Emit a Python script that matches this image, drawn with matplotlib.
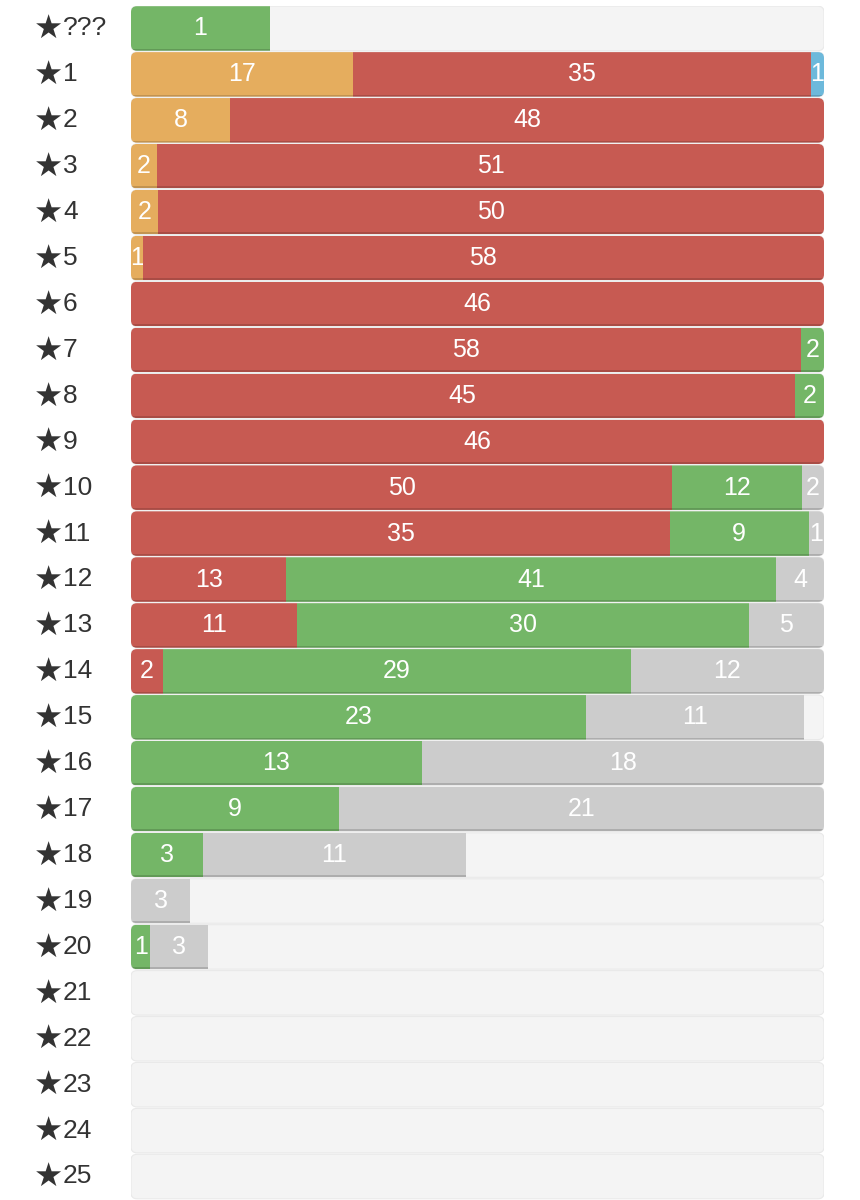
import matplotlib.pyplot as plt
from matplotlib.patches import FancyBboxPatch
from matplotlib.transforms import blended_transform_factory

# levels shown on the left
levels = ["???"] + [str(i) for i in range(1, 26)]

# counts per status, one entry per level
orange = [0, 17, 8, 2, 2, 1, 0, 0, 0, 0, 0, 0, 0, 0, 0, 0, 0, 0, 0, 0, 0, 0, 0, 0, 0, 0]
red = [0, 35, 48, 51, 50, 58, 46, 58, 45, 46, 50, 35, 13, 11, 2, 0, 0, 0, 0, 0, 0, 0, 0, 0, 0, 0]
blue = [0, 1, 0, 0, 0, 0, 0, 0, 0, 0, 0, 0, 0, 0, 0, 0, 0, 0, 0, 0, 0, 0, 0, 0, 0, 0]
green = [1, 0, 0, 0, 0, 0, 0, 2, 2, 0, 12, 9, 41, 30, 29, 23, 13, 9, 3, 0, 1, 0, 0, 0, 0, 0]
grey = [0, 0, 0, 0, 0, 0, 0, 0, 0, 0, 2, 1, 4, 5, 12, 11, 18, 21, 11, 3, 3, 0, 0, 0, 0, 0]

# number of songs in each level (width of the full bar)
totals = [5, 53, 56, 53, 52, 59, 46, 60, 47, 46, 64, 45, 58, 46, 43, 35, 31, 30, 29, 35, 36, 0, 0, 0, 0, 0]

series = [orange, red, blue, green, grey]
colors = ["#E5AD5E", "#C75A52", "#6DB9DB", "#74B667", "#CCCCCC"]

W, H = 860, 1200
fig = plt.figure(figsize=(W / 100, H / 100), dpi=100)
fig.patch.set_facecolor("white")

left_px, right_px = 131, 824
top_px, bot_px = 5.5, 1199.5
ax = fig.add_axes([left_px / W, 1 - bot_px / H, (right_px - left_px) / W, (bot_px - top_px) / H])
n = len(levels)
ax.set_xlim(0, 1)
ax.set_ylim(n - 0.5, -0.5)
ax.axis("off")

px_x = right_px - left_px
px_y = (bot_px - top_px) / n
aspect = px_x / px_y
radius = 6 / px_x
h = 44.5 / px_y
shadow = 2 / px_y

font = ["Liberation Sans", "DejaVu Sans"]
lab_tr = blended_transform_factory(fig.transFigure, ax.transData)

for i, lev in enumerate(levels):
    bg = FancyBboxPatch((0, i - h / 2), 1, h,
                        boxstyle=f"round,pad=0,rounding_size={radius}",
                        mutation_aspect=aspect, facecolor="#F4F4F4",
                        edgecolor="#E9E9E9", linewidth=0.8, zorder=1)
    ax.add_patch(bg)

    # star and level number share a baseline
    base = i + 0.15
    ax.text(34 / W, base + 0.08, "★", transform=lab_tr, ha="left", va="baseline",
            fontsize=23.5, color="#333333", family="DejaVu Sans")
    ax.text(63 / W, base, lev, transform=lab_tr, ha="left", va="baseline",
            fontsize=19, color="#333333", family=font)

    total = max(totals[i], 1)
    start = 0
    for vals, col in zip(series, colors):
        v = vals[i]
        if v == 0:
            continue
        w = v / total
        bar = ax.barh(i, w, left=start, height=h, color=col, zorder=2)[0]
        bar.set_clip_path(bg)
        sh = ax.barh(i + h / 2 - shadow / 2, w, left=start, height=shadow,
                     color="black", alpha=0.15, zorder=3)[0]
        sh.set_clip_path(bg)
        t = ax.text(start + w / 2, i, str(v), ha="center", va="center",
                    fontsize=18, color="white", family=font, zorder=4)
        t.set_clip_path(bar)
        t.set_clip_on(True)
        start += w

fig.savefig("out.png", dpi=100)
